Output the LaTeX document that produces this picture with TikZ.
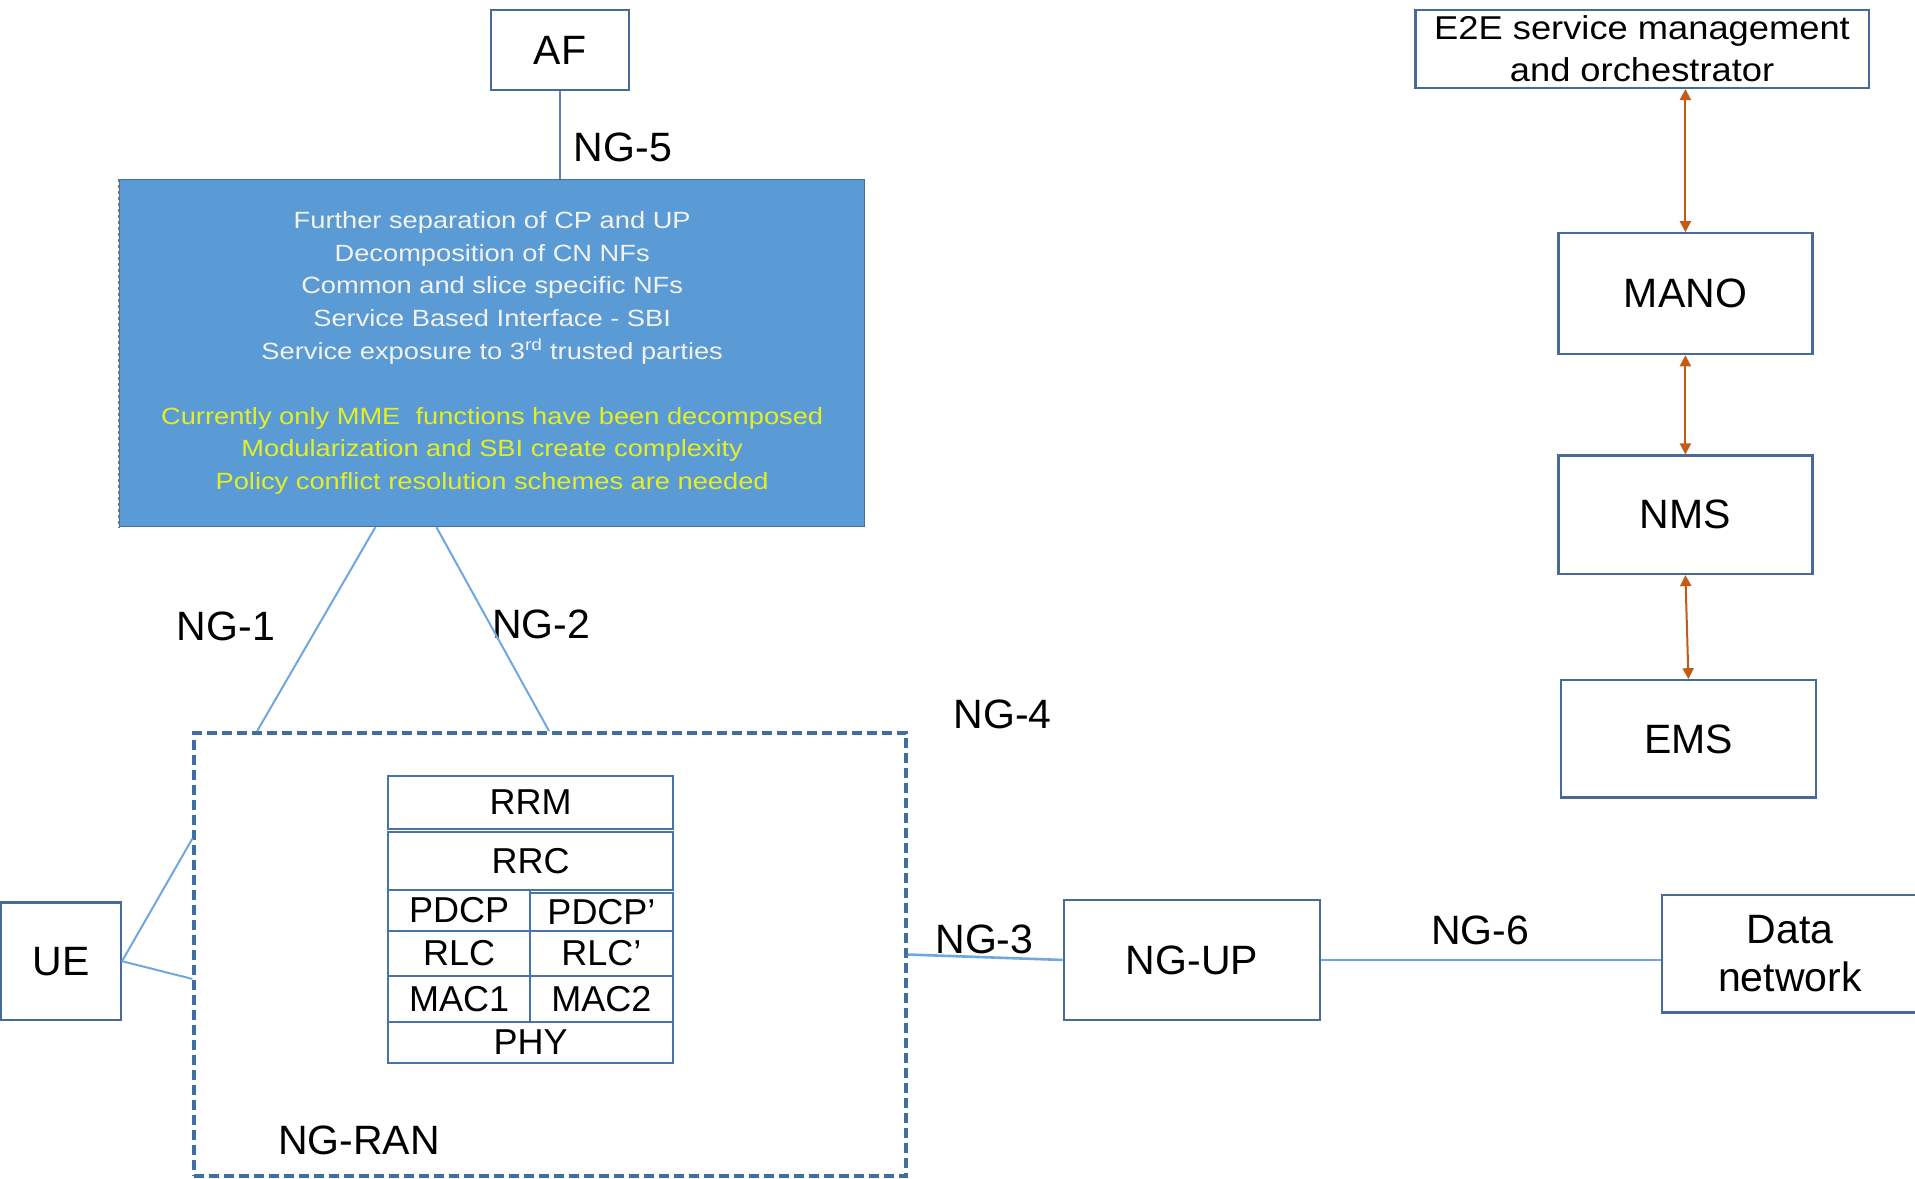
\documentclass[tikz,border=0pt]{standalone}
\usepackage{fontspec}
\setmainfont{Liberation Sans}
\newfontfamily\bluefont{Liberation Sans}[FakeStretch=1.16]
\newfontfamily\widefont{Liberation Sans}[FakeStretch=1.1]
\usetikzlibrary{calc,arrows.meta}
\definecolor{boxline}{RGB}{72,106,150}
\definecolor{cellline}{RGB}{70,115,170}
\definecolor{ranline}{RGB}{65,110,160}
\definecolor{corefill}{RGB}{91,155,213}
\definecolor{coreline}{RGB}{65,113,156}
\definecolor{corewhite}{RGB}{242,242,242}
\definecolor{coreyellow}{RGB}{228,238,40}
\definecolor{linkblue}{RGB}{110,168,222}
\definecolor{aflink}{RGB}{90,130,180}
\definecolor{mgmtorange}{RGB}{197,90,17}
\begin{document}
\begin{tikzpicture}[x=1.2213pt,y=-1.2213pt,
  bx/.style n args={4}{at={({(#1+#3)/2},{(#2+#4)/2})},
     minimum width={(#3-#1)*1.2213pt}, minimum height={(#4-#2)*1.2213pt}},
  box/.style={draw=boxline, line width=2.2pt, inner sep=0pt, align=center, font=\fontsize{41}{48}\selectfont},
  lbl/.style={inner sep=0pt, font=\fontsize{41}{48}\selectfont},
  cell/.style={draw=cellline, line width=2pt, inner sep=0pt, font=\fontsize{36}{43}\selectfont},
  link/.style={draw=linkblue, line width=2pt},
  mgmt/.style={draw=mgmtorange, line width=2pt, {Triangle[length=11pt,width=11pt]}-{Triangle[length=11pt,width=11pt]}},
]
\fill[white] (0,0) rectangle (1568,965);
\useasboundingbox (0,0) rectangle (1568,965);

% top application function
\node[box, bx={402}{8}{515}{74}] (af) {AF};

% core network block
\node[bx={98}{147}{708}{431}, fill=corefill, draw=coreline, line width=1.6pt, inner sep=0pt,
      align=center, text=corewhite, font=\bluefont\fontsize{23.5}{32.6}\selectfont] (core)
  {Further separation of CP and UP\\
   Decomposition of CN NFs\\
   Common and slice specific NFs\\
   Service Based Interface - SBI\\
   Service exposure to 3\textsuperscript{rd} trusted parties\\[32.6pt]
   \textcolor{coreyellow}{Currently only MME~ functions have been decomposed}\\
   \textcolor{coreyellow}{Modularization and SBI create complexity}\\
   \textcolor{coreyellow}{Policy conflict resolution schemes are needed}};
\draw[dashed, draw=black!55, line width=1.6pt] (core.north west) -- (core.south west);

% NG-RAN
\node[bx={159}{600}{742}{963}, inner sep=0pt, draw=ranline, line width=3.5pt,
      dash pattern=on 10pt off 5pt] (ran) {};
\node[lbl] (ranlbl) at (294,934) {NG-RAN};

% protocol stack
\node[cell, bx={318}{635}{551}{679}] (rrm) {RRM};
\node[cell, bx={318}{681}{551}{729}] (rrc) {RRC};
\node[cell, bx={318}{729}{434}{762}] (pdcp) {PDCP};
\node[cell, bx={434}{731}{551}{762}] (pdcpp) {PDCP'};
\node[cell, bx={318}{762}{434}{799}] (rlc) {RLC};
\node[cell, bx={434}{762}{551}{799}] (rlcp) {RLC'};
\node[cell, bx={318}{799}{434}{837}] (mac1) {MAC1};
\node[cell, bx={434}{799}{551}{837}] (mac2) {MAC2};
\node[cell, bx={318}{837}{551}{870}] (phy) {PHY};

% other network elements
\node[box, bx={1}{739}{99}{835}] (ue) {UE};
\node[box, bx={871}{737}{1081}{835}] (ngup) {NG-UP};
\node[box, bx={1361}{733}{1580}{829}, font=\fontsize{41}{47.6}\selectfont] (dn) {\hspace*{-12pt}Data\\\hspace*{-12pt}network};

% management stack
\node[box, bx={1159}{8}{1530}{72}, font=\widefont\fontsize{33}{42.7}\selectfont] (e2e)
  {E2E service management\\and orchestrator};
\node[box, bx={1276}{191}{1484}{290}] (mano) {MANO};
\node[box, bx={1276}{373}{1484}{470}] (nms) {NMS};
\node[box, bx={1278}{557}{1487}{653}] (ems) {EMS};

% interface labels
\node[lbl] (ng5) at (510,121) {NG-5};
\node[lbl] (ng1) at (185,513) {NG-1};
\node[lbl] (ng2) at (443,511) {NG-2};
\node[lbl] (ng4) at (821,585) {NG-4};
\node[lbl] (ng3) at (806,769) {NG-3};
\node[lbl] (ng6) at (1212,762) {NG-6};

% connectors
\draw[draw=aflink, line width=1.8pt] (af.south) -- (af.south |- core.north);
\draw[link] ($(core.south west)+(210,0)$) -- ($(ran.north west)+(53,0)$);
\draw[link] ($(core.south west)+(260,0)$) -- ($(ran.north west)+(292,0)$);
\draw[link] (ue.east) -- ($(ran.north west)+(0,88)$);
\draw[link] (ue.east) -- ($(ran.north west)+(0,203)$);
\draw[link, line width=2.6pt] ($(ran.north east)+(0,183)$) -- (ngup.west);
\draw[link, line width=2.6pt] (ngup.east) -- (ngup.east -| dn.west);

\draw[mgmt] (mano.north |- e2e.south) -- (mano.north);
\draw[mgmt] (mano.south) -- (nms.north);
\draw[mgmt] (nms.south) -- (ems.north);
\end{tikzpicture}
\end{document}
